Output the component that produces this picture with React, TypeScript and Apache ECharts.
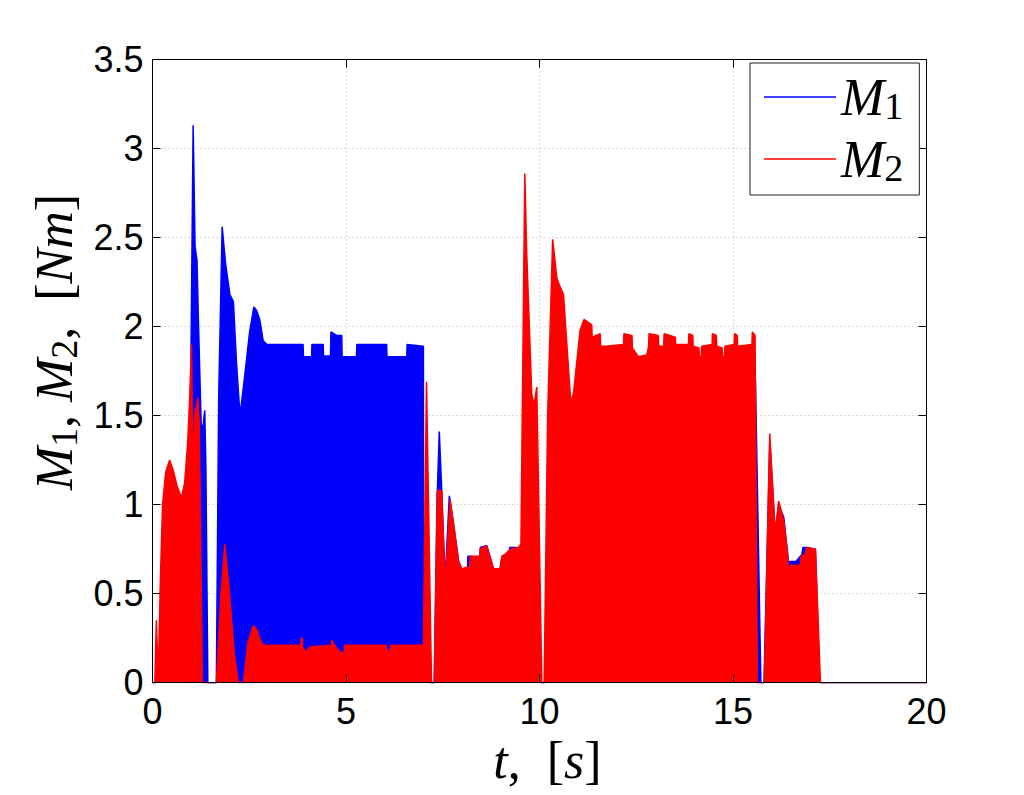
import React, { useEffect, useRef } from "react";
import * as echarts from "echarts";

// Time axis ticks and torque axis ticks
const timeTicks = [0, 5, 10, 15, 20];
const torqueTicks = [0, 0.5, 1, 1.5, 2, 2.5, 3, 3.5];

// Upper envelope of M1 (blue)
const m1Time = [
  0, 0.08, 0.48, 0.88, 0.98, 1.05, 1.1, 1.15, 1.19, 1.26, 1.31, 1.35, 1.38, 1.43,
  1.65, 1.71, 1.8, 1.89, 2.0, 2.09, 2.17, 2.26, 2.37, 2.51, 2.62, 2.69, 2.77, 2.86,
  2.95, 3.89, 3.9, 4.11, 4.12, 4.41, 4.42, 4.6, 4.61, 4.76, 4.89, 4.9, 5.27, 5.28,
  6.05, 6.06, 6.57, 6.58, 7.0, 7.01, 7.13, 7.18, 7.28, 7.35, 7.41, 7.47, 7.56, 7.67,
  7.78, 7.91, 7.99, 8.14, 8.15, 8.24, 8.25, 8.46, 8.47, 8.64, 8.81, 8.98, 9.03, 9.11,
  9.22, 9.23, 9.47, 9.52, 9.71, 9.91, 10.04, 10.13, 10.26, 10.51, 10.91, 11.9, 12.89,
  13.88, 14.88, 15.56, 15.58, 15.72, 15.8, 15.95, 16.09, 16.18, 16.31, 16.44, 16.47,
  16.62, 16.78, 16.81, 16.91, 17.13, 17.24, 20,
];
const m1Torque = [
  0, 0, 0.5, 0.9, 1.5, 3.13, 2.45, 2.37, 2.0, 1.43, 1.45, 1.53, 1.2, 0,
  0, 1.6, 2.56, 2.35, 2.18, 2.14, 1.8, 1.5, 1.7, 1.97, 2.11, 2.09, 2.04, 1.92,
  1.9, 1.9, 1.83, 1.83, 1.9, 1.9, 1.835, 1.835, 1.97, 1.95, 1.95, 1.83, 1.83, 1.9,
  1.9, 1.83, 1.83, 1.9, 1.89, 0.22, 0.1, 0, 0, 1.0, 1.41, 1.1, 0.57, 1.05,
  0.89, 0.68, 0.64, 0.64, 0.71, 0.71, 0.66, 0.71, 0.76, 0.77, 0.64, 0.64, 0.71, 0.72,
  0.73, 0.76, 0.76, 0.7, 1.0, 0.8, 0, 0, 0.5, 0.4, 0.25, 0.21, 0.2,
  0.21, 0.2, 0.2, 1.7, 0, 0, 1.35, 0.84, 1.0, 0.93, 0.67, 0.68,
  0.68, 0.72, 0.76, 0.76, 0.75, 0, 0,
];

// Upper envelope of M2 (red)
const m2Time = [
  0, 0.06, 0.1, 0.15, 0.2, 0.26, 0.34, 0.44, 0.54, 0.64, 0.75, 0.83, 0.91, 0.96,
  1.01, 1.04, 1.09, 1.17, 1.21, 1.29, 1.65, 1.77, 1.87, 1.97, 2.12, 2.22, 2.35, 2.46,
  2.6, 2.69, 2.76, 2.86, 3.83, 3.84, 3.87, 3.88, 3.97, 4.05, 4.62, 4.63, 4.67, 4.85,
  4.95, 4.96, 6.04, 6.05, 6.14, 6.15, 7.0, 7.08, 7.21, 7.28, 7.36, 7.47, 7.56, 7.69,
  7.78, 7.91, 7.99, 8.16, 8.2, 8.21, 8.46, 8.47, 8.63, 8.81, 8.98, 9.03, 9.11, 9.24,
  9.46, 9.52, 9.62, 9.67, 9.8, 9.86, 9.93, 10.06, 10.12, 10.21, 10.34, 10.45, 10.54,
  10.62, 10.81, 10.88, 11.05, 11.15, 11.35, 11.36, 11.57, 11.58, 11.7, 12.17, 12.18,
  12.39, 12.4, 12.56, 12.77, 12.82, 12.83, 13.07, 13.08, 13.21, 13.22, 13.51, 13.52,
  13.85, 13.86, 13.96, 13.97, 14.12, 14.13, 14.18, 14.19, 14.46, 14.47, 14.57, 14.58,
  14.72, 14.73, 14.78, 14.79, 15.03, 15.04, 15.11, 15.12, 15.49, 15.5, 15.57, 15.63,
  15.81, 15.95, 16.09, 16.18, 16.31, 16.42, 16.44, 16.49, 16.74, 16.76, 16.86, 16.91,
  17.13, 17.26, 20,
];
const m2Torque = [
  0, 0, 0.35, 0.03, 0.55, 1.0, 1.18, 1.25, 1.19, 1.1, 1.04, 1.12, 1.35, 1.6,
  1.9, 1.2, 1.5, 1.6, 1.45, 0, 0, 0.5, 0.78, 0.55, 0.15, 0, 0, 0.22,
  0.32, 0.3, 0.25, 0.21, 0.21, 0.25, 0.25, 0.2, 0.17, 0.2, 0.21, 0.24, 0.22, 0.17,
  0.17, 0.21, 0.21, 0.18, 0.18, 0.21, 0.21, 1.69, 0, 0, 1.08, 1.08, 0.55, 1.03,
  0.89, 0.68, 0.64, 0.65, 0.66, 0.71, 0.71, 0.75, 0.77, 0.64, 0.64, 0.71, 0.72, 0.75,
  0.76, 0.78, 2.86, 2.41, 1.62, 1.56, 1.66, 0, 0, 1.5, 2.49, 2.27, 2.22,
  2.18, 1.57, 1.63, 1.98, 2.04, 2.01, 1.94, 1.96, 1.89, 1.89, 1.9, 1.96,
  1.95, 1.88, 1.83, 1.84, 1.89, 1.96, 1.95, 1.89, 1.89, 1.96, 1.94, 1.9,
  1.9, 1.96, 1.95, 1.89, 1.88, 1.83, 1.83, 1.89, 1.9, 1.96, 1.95, 1.89,
  1.88, 1.83, 1.83, 1.89, 1.9, 1.96, 1.95, 1.89, 1.9, 1.97, 1.95, 0,
  0, 1.4, 0.84, 1.02, 0.91, 0.7, 0.62, 0.66, 0.66, 0.71, 0.72, 0.76,
  0.75, 0, 0,
];

const seriesNames = ["M1", "M2"];
const seriesColors = ["#0000ff", "#ff0000"];

const serif = "'Liberation Serif', 'Times New Roman', serif";
const sans = "'Liberation Sans', Arial, Helvetica, sans-serif";

const mathRich = {
  i: { fontFamily: serif, fontStyle: "italic", fontSize: 52, lineHeight: 56, color: "#000", verticalAlign: "middle" },
  r: { fontFamily: serif, fontSize: 52, lineHeight: 56, color: "#000", verticalAlign: "middle" },
  s: { fontFamily: serif, fontSize: 38, lineHeight: 28, color: "#000", verticalAlign: "bottom" },
};

export default function App() {
  const ref = useRef<HTMLDivElement>(null);

  useEffect(() => {
    document.body.style.margin = "0";
    if (!ref.current) return;
    const chart = echarts.init(ref.current, null, { renderer: "svg" });

    const pairs = (t: number[], v: number[]) => t.map((x, i) => [x, v[i]]);
    const seriesData = [pairs(m1Time, m1Torque), pairs(m2Time, m2Torque)];

    const xRange = {
      type: "value" as const,
      min: timeTicks[0],
      max: timeTicks[timeTicks.length - 1],
      interval: timeTicks[1] - timeTicks[0],
    };
    const yRange = {
      type: "value" as const,
      min: torqueTicks[0],
      max: torqueTicks[torqueTicks.length - 1],
      interval: torqueTicks[1] - torqueTicks[0],
    };
    const gridLine = { show: true, lineStyle: { color: "#b4b4b4", type: [1, 3], width: 1 } };
    // overlay axes: frame + inward ticks, drawn above the data
    const frame = {
      z: 10,
      axisLine: { show: true, onZero: false, lineStyle: { color: "#000", width: 1 } },
      axisTick: { show: true, inside: true, length: 8, lineStyle: { color: "#000", width: 1 } },
      axisLabel: { show: false },
      splitLine: { show: false },
    };

    chart.setOption({
      animation: false,
      backgroundColor: "#fff",
      grid: { left: 152.5, right: 97.5, top: 59.5, bottom: 112.3, containLabel: false },
      legend: {
        data: seriesNames,
        orient: "vertical",
        left: 750,
        top: 63,
        padding: [8, 16, 8, 14],
        itemGap: 8,
        itemWidth: 72,
        itemHeight: 1.5,
        icon: "rect",
        backgroundColor: "#fff",
        borderColor: "#222",
        borderWidth: 1,
        z: 20,
        formatter: (name: string) => `{i|M}{s|${name.slice(1)}}`,
        textStyle: { rich: mathRich },
      },
      xAxis: [
        {
          ...xRange,
          position: "bottom",
          axisLine: { show: false },
          axisTick: { show: false },
          axisLabel: { show: true, fontFamily: sans, fontSize: 36, color: "#000", margin: 11 },
          splitLine: gridLine,
          name: "{i|t}{r|,  [}{i|s}{r|]}",
          nameLocation: "middle",
          nameGap: 44,
          nameTextStyle: { rich: mathRich, padding: [0, 0, 0, 16] },
        },
        { ...xRange, ...frame, position: "bottom" },
        { ...xRange, ...frame, position: "top" },
      ],
      yAxis: [
        {
          ...yRange,
          position: "left",
          axisLine: { show: false },
          axisTick: { show: false },
          axisLabel: { show: true, fontFamily: sans, fontSize: 36, color: "#000", margin: 9 },
          splitLine: gridLine,
          name: "{i|M}{s|1}{r|, }{i|M}{s|2}{r|,  [}{i|Nm}{r|]}",
          nameLocation: "middle",
          nameGap: 64,
          nameTextStyle: { rich: mathRich, padding: [0, 0, 0, 58] },
        },
        { ...yRange, ...frame, position: "left" },
        { ...yRange, ...frame, position: "right" },
      ],
      series: seriesNames.map((name, k) => ({
        name,
        type: "line",
        xAxisIndex: 0,
        yAxisIndex: 0,
        data: seriesData[k],
        symbol: "none",
        showSymbol: false,
        clip: true,
        z: 2 + k,
        lineStyle: { color: seriesColors[k], width: 1.5 },
        itemStyle: { color: seriesColors[k] },
        areaStyle: { color: seriesColors[k], opacity: 1, origin: 0 },
      })),
    });

    return () => chart.dispose();
  }, []);

  return <div ref={ref} style={{ width: 1024, height: 795 }} />;
}
